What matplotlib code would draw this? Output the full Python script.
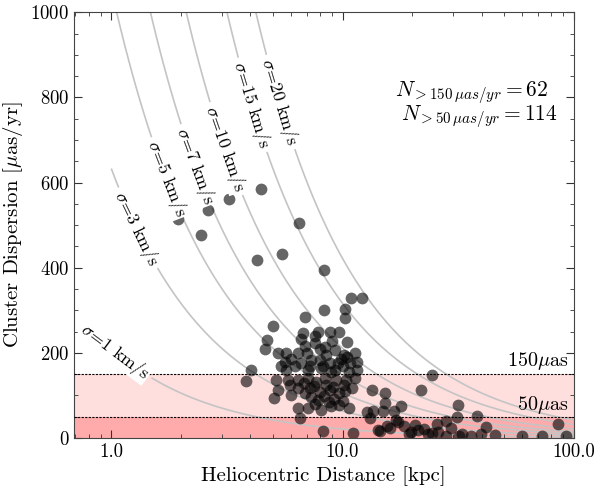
import numpy as np
import matplotlib
matplotlib.use("Agg")
import matplotlib.pyplot as plt
from matplotlib.ticker import FixedLocator, FormatStrFormatter, MultipleLocator

plt.rcParams['font.family'] = 'serif'
plt.rcParams['font.serif'] = ['cmr10']
plt.rcParams['mathtext.fontset'] = 'cm'
plt.rcParams['axes.formatter.use_mathtext'] = True
plt.rcParams['axes.unicode_minus'] = False

# cluster heliocentric distances [kpc] and velocity dispersions [uas/yr]
dist_hi = [4.46, 3.23, 2.63, 1.94, 2.44, 6.51, 4.28, 5.48, 8.35, 10.9, 12.1, 8.35,
           10.3, 10.3, 6.85, 5.0, 4.70, 4.62, 4.04, 6.74, 6.64, 7.83, 8.79, 9.7,
           7.57, 8.36, 9.24, 10.5, 10.5, 11.3, 11.5, 11.5, 5.26, 5.72, 6.42, 5.62,
           6.64, 7.33, 7.96, 8.79, 9.55, 10.2, 8.09, 7.09, 5.72, 8.94, 10.7, 6.0,
           7.0, 7.6, 8.5, 9.0, 9.9, 6.2, 7.2, 8.2, 9.3, 10.0, 6.9, 8.0, 5.4, 10.8]
disp_hi = [586, 561, 535, 514, 477, 505, 418, 432, 394, 328, 328, 300,
           303, 281, 283, 264, 230, 208, 160, 246, 232, 250, 250, 250,
           222, 214, 207, 226, 191, 199, 179, 160, 199, 200, 199, 179,
           175, 183, 183, 175, 175, 195, 164, 160, 160, 156, 156, 185,
           200, 240, 195, 228, 185, 170, 170, 170, 160, 168, 215, 208, 170, 175]

dist_mid = [3.83, 5.03, 24.5, 21.9, 31.6, 38.2, 17.9, 15.3, 15.3, 13.4, 16.7, 15.0,
            13.6, 12.7, 5.18, 5.81, 5.26, 6.42, 7.09, 7.70, 8.36, 9.39, 10.4, 11.3,
            6.42, 7.2, 7.96, 8.79, 9.7, 7.83, 7.33, 6.42, 7.09, 8.09, 8.94, 9.7,
            10.7, 5.9, 6.8, 7.5, 8.5, 9.1, 10.1, 6.9, 8.3, 9.2, 10.3, 7.6,
            8.7, 11.0, 10.0, 6.0]
disp_mid = [134, 93, 148, 113, 78, 52, 74, 81, 105, 113, 64, 63,
            63, 62, 136, 136, 113, 136, 140, 132, 140, 136, 136, 140,
            117, 117, 109, 113, 105, 89, 97, 70, 70, 66, 74, 77,
            70, 125, 128, 122, 125, 120, 124, 105, 98, 92, 110, 80,
            84, 118, 88, 100]

dist_lo = [31.2, 27.9, 41.6, 85.3, 72.6, 92.4, 45.7, 39.9, 31.9, 26.0, 23.5, 21.2,
           19.4, 18.5, 17.3, 16.1, 14.5, 13.1, 11.1, 8.2, 6.57, 14.2, 15.6, 17.0,
           20.5, 22.5, 24.5, 28.0, 33.0, 36.0, 29.5, 19.8, 25.5, 60.0]
disp_lo = [49, 41, 25, 33, 5, 5, 7, 9, 5, 15, 9, 19,
           9, 27, 38, 23, 16, 46, 11, 16, 46, 19, 27, 42,
           30, 22, 12, 4, 10, 4, 24, 15, 33, 5]

sigma_levels = [1, 3, 5, 7, 10, 15, 20]   # km/s
cut_levels = [50, 150]                    # uas/yr

n_hi = 62
n_mid = 114

dist = np.array(dist_hi + dist_mid + dist_lo)
disp = np.array(disp_hi + disp_mid + disp_lo)

fig = plt.figure(figsize=(5.97, 4.86), dpi=100)
ax = fig.add_axes([0.124, 0.0988, 0.837, 0.876])

# shaded bands below the astrometric limits
ax.axhspan(0, cut_levels[0], color='red', alpha=0.33, lw=0, zorder=0)
ax.axhspan(cut_levels[0], cut_levels[1], color='red', alpha=0.13, lw=0, zorder=0)

# lines of constant velocity dispersion: sigma = 4.74 * d * mu
d_grid = np.arange(1, 101, 1.0)
mu_grid = np.linspace(0, 1000, 1001)
D, M = np.meshgrid(d_grid, mu_grid)
S = 4.74 * D * M / 1000.0
cs = ax.contour(D, M, S, levels=sigma_levels, colors='#c4c4c4', linewidths=1.2, zorder=1)

ax.scatter(dist, disp, s=72, color='k', alpha=0.6, lw=0, zorder=2)

for c in cut_levels:
    ax.axhline(c, color='k', ls='--', lw=0.8, dashes=(2, 1.2), zorder=3)

ax.set_xscale('log')
ax.set_xlim(0.69, 100)
ax.set_ylim(0, 1000)

label_xy = [(1.04, 203), (1.38, 500), (1.78, 610), (2.38, 640), (3.15, 680),
            (4.05, 782), (5.46, 790)]
fmt = {lv: r'$\sigma$=%d km/s' % lv for lv in sigma_levels}
labels = ax.clabel(cs, levels=sigma_levels, fmt=fmt, fontsize=13, inline=True,
                   inline_spacing=4, manual=label_xy, colors='k')
for t in labels:
    t.set_bbox(dict(facecolor='white', edgecolor='none', pad=0.5))
    t.set_zorder(4)

ax.text(0.948, 0.812, r'$N_{>150\,\mu as/yr} = %d$' % n_hi, transform=ax.transAxes,
        ha='right', va='center', fontsize=15.5)
ax.text(0.968, 0.754, r'$N_{>50\,\mu as/yr} = %d$' % n_mid, transform=ax.transAxes,
        ha='right', va='center', fontsize=15.5)

ax.text(0.99, 180, r'150$\mu$as', transform=ax.get_yaxis_transform(),
        ha='right', va='center', fontsize=14.5)
ax.text(0.99, 78, r'50$\mu$as', transform=ax.get_yaxis_transform(),
        ha='right', va='center', fontsize=14.5)

ax.xaxis.set_major_locator(FixedLocator([1, 10, 100]))
ax.xaxis.set_major_formatter(FormatStrFormatter('%.1f'))
ax.yaxis.set_major_locator(MultipleLocator(200))
ax.yaxis.set_minor_locator(MultipleLocator(50))
ax.tick_params(which='both', direction='in', top=True, right=True, labelsize=13.5,
               color='#333333')
ax.tick_params(which='major', length=6)
ax.tick_params(which='minor', length=3)
for sp in ax.spines.values():
    sp.set_color('#444444')

ax.set_xlabel('Heliocentric Distance [kpc]', fontsize=15)
ax.set_ylabel(r'Cluster Dispersion [$\mu$as/yr]', fontsize=15)

fig.savefig('out.png', dpi=100)
